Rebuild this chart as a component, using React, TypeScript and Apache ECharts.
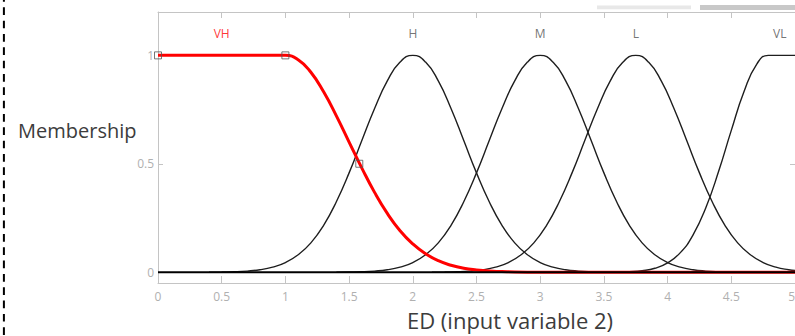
import React, { useEffect, useRef } from "react";
import * as echarts from "echarts";

// Membership functions of input variable 2 (ED), sampled along the x axis
const vhX = [0, 1, 1.1, 1.2, 1.3, 1.4, 1.5, 1.6, 1.7, 1.8, 1.9, 2.0, 2.1, 2.2, 2.3, 2.4, 2.5, 2.6, 2.7, 2.8, 3.0, 5.0];
const vhY = [1, 1, 0.98, 0.922, 0.832, 0.721, 0.6, 0.48, 0.368, 0.271, 0.191, 0.13, 0.085, 0.053, 0.032, 0.018, 0.01, 0.005, 0.003, 0.001, 0, 0];

const hX = [0.4, 0.5, 0.6, 0.7, 0.8, 0.9, 1.0, 1.1, 1.2, 1.3, 1.4, 1.5, 1.6, 1.7, 1.8, 1.9, 2.0, 2.1, 2.2, 2.3, 2.4, 2.5, 2.6, 2.7, 2.8, 2.9, 3.0, 3.1, 3.2, 3.3, 3.4, 3.5, 3.6];
const hY = [0.0003, 0.001, 0.002, 0.005, 0.011, 0.023, 0.044, 0.08, 0.135, 0.216, 0.325, 0.458, 0.607, 0.755, 0.882, 0.969, 1, 0.969, 0.882, 0.755, 0.607, 0.458, 0.325, 0.216, 0.135, 0.08, 0.044, 0.023, 0.011, 0.005, 0.002, 0.001, 0.0003];

const mX = [1.4, 1.5, 1.6, 1.7, 1.8, 1.9, 2.0, 2.1, 2.2, 2.3, 2.4, 2.5, 2.6, 2.7, 2.8, 2.9, 3.0, 3.1, 3.2, 3.3, 3.4, 3.5, 3.6, 3.7, 3.8, 3.9, 4.0, 4.1, 4.2, 4.3, 4.4, 4.5, 4.6];
const mY = [0.0003, 0.001, 0.002, 0.005, 0.011, 0.023, 0.044, 0.08, 0.135, 0.216, 0.325, 0.458, 0.607, 0.755, 0.882, 0.969, 1, 0.969, 0.882, 0.755, 0.607, 0.458, 0.325, 0.216, 0.135, 0.08, 0.044, 0.023, 0.011, 0.005, 0.002, 0.001, 0.0003];

const lX = [2.15, 2.25, 2.35, 2.45, 2.55, 2.65, 2.75, 2.85, 2.95, 3.05, 3.15, 3.25, 3.35, 3.45, 3.55, 3.65, 3.75, 3.85, 3.95, 4.05, 4.15, 4.25, 4.35, 4.45, 4.55, 4.65, 4.75, 4.85, 4.95, 5.0];
const lY = [0.0003, 0.001, 0.002, 0.005, 0.011, 0.023, 0.044, 0.08, 0.135, 0.216, 0.325, 0.458, 0.607, 0.755, 0.882, 0.969, 1, 0.969, 0.882, 0.755, 0.607, 0.458, 0.325, 0.216, 0.135, 0.08, 0.044, 0.023, 0.011, 0.008];

const vlX = [3.2, 3.5, 3.6, 3.7, 3.8, 3.9, 4.0, 4.1, 4.2, 4.3, 4.4, 4.5, 4.6, 4.7, 4.79, 5.0];
const vlY = [0, 0.0002, 0.0008, 0.0025, 0.007, 0.018, 0.043, 0.09, 0.172, 0.297, 0.464, 0.654, 0.833, 0.96, 1, 1];

// Zero baseline shared by all functions
const baseX = [0, 5];
const baseY = [0, 0];

// Parameter markers of the selected function (VH)
const markerX = [0, 1, 1.58];
const markerY = [1, 1, 0.5];

// Function names written above their peaks
const mfNames = ["VH", "H", "M", "L", "VL"];
const mfNameX = [0.5, 2, 3, 3.75, 4.88];
const mfNameY = [1.1, 1.1, 1.1, 1.1, 1.1];

const xTicks = { min: 0, max: 5, interval: 0.5 };
const yTickValues = [0, 0.5, 1];

const zip = (xs: number[], ys: number[]) => xs.map((x, i) => [x, ys[i]]);

const AXIS_GREY = "#c4c4c4";
const LABEL_GREY = "#b0b0b0";
const FONT = "Open Sans";

export default function App() {
  const ref = useRef<HTMLDivElement>(null);

  useEffect(() => {
    if (!ref.current) return;
    const chart = echarts.init(ref.current, null, { renderer: "svg" });

    const blackCurve = (name: string, xs: number[], ys: number[]) => ({
      name,
      type: "line",
      data: zip(xs, ys),
      smooth: true,
      showSymbol: false,
      lineStyle: { color: "#1e1e1e", width: 1.4 },
      z: 2,
    });

    const xAxisBase = {
      type: "value",
      min: xTicks.min,
      max: xTicks.max,
      interval: xTicks.interval,
      splitLine: { show: false },
      axisLine: { show: true, onZero: false, lineStyle: { color: AXIS_GREY, width: 1 } },
    };

    const yAxisBase = {
      type: "value",
      min: -0.05,
      max: 1.2,
      splitLine: { show: false },
      axisLine: { show: true, onZero: false, lineStyle: { color: AXIS_GREY, width: 1 } },
      axisTick: {
        show: true,
        inside: true,
        length: 5,
        customValues: yTickValues,
        lineStyle: { color: AXIS_GREY },
      },
    };

    chart.setOption({
      animation: false,
      grid: { left: 158, right: 0, top: 12, bottom: 53, outerBoundsMode: "none", containLabel: false },
      xAxis: [
        {
          ...xAxisBase,
          position: "bottom",
          axisTick: { show: true, inside: true, length: 7, lineStyle: { color: AXIS_GREY } },
          axisLabel: {
            color: LABEL_GREY,
            fontSize: 12,
            fontFamily: FONT,
            margin: 7,
            showMinLabel: true,
            showMaxLabel: true,
            alignMaxLabel: "right",
          },
        },
        {
          ...xAxisBase,
          position: "top",
          axisTick: { show: true, inside: true, length: 6, lineStyle: { color: AXIS_GREY } },
          axisLabel: { show: false },
        },
      ],
      yAxis: [
        {
          ...yAxisBase,
          position: "left",
          axisLabel: {
            customValues: yTickValues,
            color: LABEL_GREY,
            fontSize: 12,
            fontFamily: FONT,
            margin: 4,
          },
        },
        {
          ...yAxisBase,
          position: "right",
          axisLabel: { show: false },
        },
      ],
      series: [
        blackCurve("H", hX, hY),
        blackCurve("M", mX, mY),
        blackCurve("L", lX, lY),
        blackCurve("VL", vlX, vlY),
        {
          name: "VH",
          type: "line",
          data: zip(vhX, vhY),
          smooth: true,
          showSymbol: false,
          lineStyle: { color: "#ff0000", width: 3 },
          z: 3,
        },
        {
          name: "baseline",
          type: "line",
          data: zip(baseX, baseY),
          showSymbol: false,
          lineStyle: { color: "#000000", width: 2 },
          z: 4,
        },
        {
          name: "markers",
          type: "scatter",
          data: zip(markerX, markerY),
          symbol: "rect",
          symbolSize: 7,
          itemStyle: { color: "rgba(0,0,0,0)", borderColor: "#555555", borderWidth: 1 },
          z: 5,
        },
        {
          name: "names",
          type: "scatter",
          symbolSize: 0,
          data: mfNames.map((n, i) => ({
            name: n,
            value: [mfNameX[i], mfNameY[i]],
            label: { color: i === 0 ? "#ff0000" : "#505050" },
          })),
          label: {
            show: true,
            position: "inside",
            formatter: "{b}",
            fontSize: 12,
            fontFamily: FONT,
          },
          z: 6,
        },
      ],
      graphic: [
        {
          type: "line",
          shape: { x1: 3.9, y1: -6, x2: 3.9, y2: 340 },
          style: { stroke: "#000000", lineWidth: 2, lineDash: [7.7, 5.63] },
          silent: true,
        },
        {
          type: "rect",
          shape: { x: 597, y: 5.5, width: 94, height: 3.8 },
          style: { fill: "#e8e8e8" },
          silent: true,
        },
        {
          type: "rect",
          shape: { x: 700, y: 5, width: 95, height: 5 },
          style: { fill: "#c8c8c8" },
          silent: true,
        },
        {
          type: "text",
          x: 18,
          y: 130,
          style: {
            text: "Membership",
            fill: "#3c3c3c",
            fontSize: 20,
            fontFamily: FONT,
            textAlign: "left",
            textVerticalAlign: "middle",
          },
          silent: true,
        },
        {
          type: "text",
          x: 510,
          y: 320,
          style: {
            text: "ED (input variable 2)",
            fill: "#3c3c3c",
            fontSize: 22,
            fontFamily: FONT,
            textAlign: "center",
            textVerticalAlign: "middle",
          },
          silent: true,
        },
      ],
    });

    return () => chart.dispose();
  }, []);

  return (
    <div
      ref={ref}
      style={{ position: "absolute", left: 0, top: 0, width: 795, height: 336 }}
    />
  );
}
